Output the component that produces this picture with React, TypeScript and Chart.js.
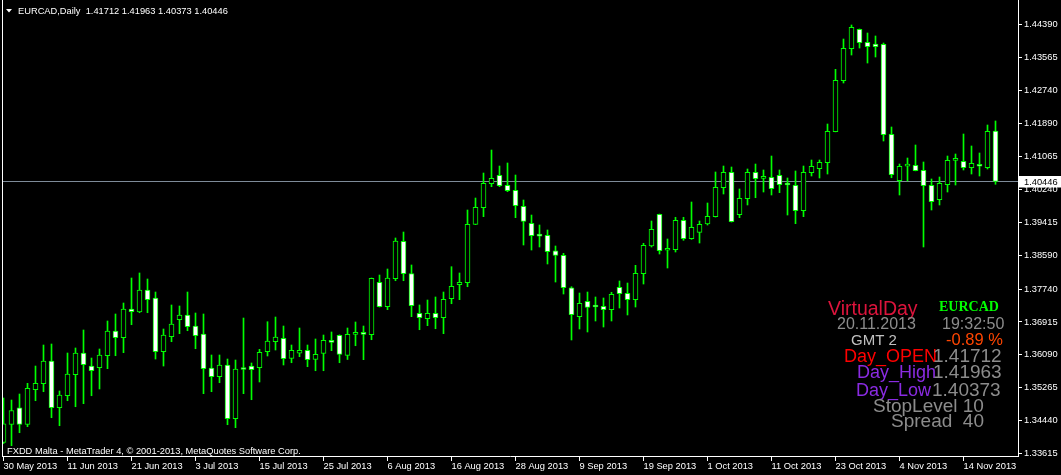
import React, { useEffect, useRef } from 'react';
import { Chart, registerables } from 'chart.js';

Chart.register(...registerables);

// ---- Data (EURCAD, Daily) ----
const opens = [
  1.33892, 1.34339, 1.34761, 1.34339, 1.35213, 1.35364, 1.35934, 1.34761, 1.35062, 1.35590,
  1.36135, 1.35808, 1.35766, 1.36067, 1.36688, 1.36519, 1.37240, 1.37165, 1.37718, 1.37517,
  1.36168, 1.36544, 1.36971, 1.37090, 1.36813, 1.36612, 1.35758, 1.35540, 1.35834, 1.34485,
  1.35733, 1.35808, 1.35766, 1.36168, 1.36419, 1.36504, 1.35997, 1.36128, 1.36203, 1.35972,
  1.36122, 1.36454, 1.36580, 1.36077, 1.36605, 1.36655, 1.36595, 1.37911, 1.37298, 1.38001,
  1.38941, 1.38127, 1.37132, 1.36997, 1.37132, 1.37022, 1.37499, 1.37851, 1.37901, 1.39368,
  1.39785, 1.40388, 1.40599, 1.40347, 1.40222, 1.39820, 1.39393, 1.39082, 1.39092, 1.38700,
  1.38589, 1.37775, 1.37047, 1.37434, 1.37298, 1.37308, 1.37223, 1.37785, 1.37635, 1.37474,
  1.38127, 1.38823, 1.39619, 1.38715, 1.38730, 1.39468, 1.39006, 1.39167, 1.39375, 1.39559,
  1.40287, 1.40674, 1.39609, 1.40011, 1.40674, 1.40520, 1.40548, 1.40599, 1.40363, 1.40347,
  1.39709, 1.40664, 1.40765, 1.40915, 1.41694, 1.42975, 1.43779, 1.44266, 1.43939, 1.43897,
  1.43889, 1.41628, 1.40463, 1.40830, 1.40850, 1.40724, 1.40347, 1.39986, 1.40363, 1.40975,
  1.40950, 1.40790, 1.40830, 1.40790, 1.41712,
];
const highs = [
  1.35005, 1.34954, 1.35105, 1.35374, 1.35808, 1.36336, 1.36361, 1.35181, 1.36135, 1.36261,
  1.36713, 1.36009, 1.36236, 1.36939, 1.37115, 1.37391, 1.38019, 1.38145, 1.37994, 1.37667,
  1.36738, 1.37341, 1.37316, 1.37667, 1.37140, 1.37115, 1.36085, 1.36085, 1.35984, 1.35959,
  1.37014, 1.35884, 1.36228, 1.36921, 1.37039, 1.36813, 1.36336, 1.36763, 1.36336, 1.36487,
  1.36587, 1.36663, 1.36590, 1.36763, 1.36914, 1.36813, 1.38019, 1.38094, 1.38245, 1.39024,
  1.39174, 1.38346, 1.37341, 1.37466, 1.37542, 1.37667, 1.38303, 1.38145, 1.39727, 1.40028,
  1.40656, 1.41234, 1.40832, 1.40908, 1.40606, 1.39978, 1.39601, 1.39350, 1.39225, 1.38823,
  1.38639, 1.37800, 1.37642, 1.37667, 1.37542, 1.37517, 1.37660, 1.37944, 1.37893, 1.38338,
  1.38891, 1.39451, 1.39625, 1.38999, 1.39544, 1.39544, 1.39928, 1.39451, 1.39903, 1.40682,
  1.40832, 1.40807, 1.40255, 1.40757, 1.40882, 1.40732, 1.41083, 1.40732, 1.40531, 1.40707,
  1.40832, 1.40983, 1.40983, 1.41887, 1.43261, 1.44022, 1.44374, 1.44274, 1.44173, 1.44098,
  1.43922, 1.41812, 1.40882, 1.41033, 1.41360, 1.40933, 1.40506, 1.40556, 1.41083, 1.41134,
  1.41636, 1.41335, 1.41159, 1.41862, 1.41963,
];
const lows = [
  1.33862, 1.33807, 1.34133, 1.34284, 1.34937, 1.35163, 1.34510, 1.34309, 1.34937, 1.34786,
  1.34862, 1.35062, 1.35231, 1.35741, 1.36067, 1.36143, 1.36846, 1.37147, 1.37147, 1.35984,
  1.35808, 1.36419, 1.36620, 1.36695, 1.36243, 1.35113, 1.35163, 1.35389, 1.34334, 1.34259,
  1.35113, 1.34962, 1.35407, 1.36060, 1.36210, 1.35834, 1.35891, 1.36042, 1.35791, 1.35690,
  1.35690, 1.36193, 1.35891, 1.35972, 1.36318, 1.35967, 1.36469, 1.37290, 1.37223, 1.37951,
  1.37951, 1.37047, 1.36720, 1.36821, 1.36745, 1.36620, 1.37373, 1.37474, 1.37800, 1.39358,
  1.39559, 1.40312, 1.40312, 1.40187, 1.39534, 1.38848, 1.38722, 1.38798, 1.38371, 1.37918,
  1.37617, 1.36462, 1.36738, 1.36663, 1.36939, 1.36788, 1.36939, 1.37265, 1.37090, 1.37290,
  1.37868, 1.38798, 1.38622, 1.38270, 1.38672, 1.38966, 1.38991, 1.38898, 1.39350, 1.39550,
  1.40129, 1.39425, 1.39534, 1.39853, 1.40036, 1.40179, 1.40104, 1.40162, 1.39601, 1.39383,
  1.39559, 1.40581, 1.40531, 1.40631, 1.41690, 1.42917, 1.43620, 1.43796, 1.43419, 1.43570,
  1.41460, 1.40538, 1.40104, 1.40456, 1.40710, 1.38798, 1.39727, 1.39853, 1.40179, 1.40355,
  1.40732, 1.40631, 1.40581, 1.40757, 1.40373,
];
const closes = [
  1.34359, 1.34691, 1.34339, 1.35248, 1.35374, 1.35934, 1.34761, 1.35080, 1.35608, 1.36135,
  1.35841, 1.35690, 1.36085, 1.36688, 1.36519, 1.37240, 1.37172, 1.37718, 1.37474, 1.36168,
  1.36587, 1.36863, 1.37090, 1.36796, 1.36570, 1.35741, 1.35540, 1.35834, 1.34485, 1.35733,
  1.35720, 1.35716, 1.36153, 1.36436, 1.36537, 1.35992, 1.36203, 1.36203, 1.35967, 1.36102,
  1.36454, 1.36404, 1.36097, 1.36605, 1.36655, 1.36605, 1.38010, 1.37298, 1.38019, 1.38948,
  1.38127, 1.37323, 1.37022, 1.37132, 1.37022, 1.37484, 1.37810, 1.37911, 1.39368, 1.39795,
  1.40398, 1.40523, 1.40337, 1.40212, 1.39835, 1.39443, 1.39082, 1.39070, 1.38680, 1.38589,
  1.37775, 1.37097, 1.37383, 1.37283, 1.37290, 1.37223, 1.37610, 1.37625, 1.37474, 1.38137,
  1.38840, 1.39242, 1.38705, 1.38725, 1.39468, 1.39006, 1.39293, 1.39368, 1.39569, 1.40297,
  1.40674, 1.39433, 1.40021, 1.40674, 1.40513, 1.40531, 1.40262, 1.40363, 1.40355, 1.39709,
  1.40674, 1.40825, 1.40925, 1.41704, 1.42985, 1.43789, 1.44316, 1.43929, 1.43829, 1.43829,
  1.41618, 1.40614, 1.40825, 1.40840, 1.40714, 1.40337, 1.39936, 1.40398, 1.40975, 1.40985,
  1.40790, 1.40900, 1.40825, 1.41704, 1.40446,
];

// time-axis labels, one every 8 bars
const dateLabels = [
  '30 May 2013', '11 Jun 2013', '21 Jun 2013', '3 Jul 2013', '15 Jul 2013', '25 Jul 2013',
  '6 Aug 2013', '16 Aug 2013', '28 Aug 2013', '9 Sep 2013', '19 Sep 2013', '1 Oct 2013',
  '11 Oct 2013', '23 Oct 2013', '4 Nov 2013', '14 Nov 2013',
];
const dateLabelStep = 8;

// price-axis labels
const priceTicks = [
  1.44390, 1.43565, 1.42740, 1.41890, 1.41065, 1.40240, 1.39415,
  1.38590, 1.37740, 1.36915, 1.36090, 1.35265, 1.34440, 1.33615,
];
const priceMin = 1.33548;
const priceMax = 1.45002;

const symbol = 'EURCAD';
const period = 'Daily';
const serverDate = '20.11.2013';
const serverTime = '19:32:50';
const gmtLabel = 'GMT 2';
const stopLevel = 10;
const spread = 40;
const copyright = 'FXDD Malta - MetaTrader 4, \u00A9 2001-2013, MetaQuotes Software Corp.';

const LIME = '#00FF00';
const AXIS_FAMILY = '"Liberation Sans", Arial, sans-serif';
const AXIS_SIZE = 9.3;

export default function App() {
  const canvasRef = useRef<HTMLCanvasElement | null>(null);

  useEffect(() => {
    document.body.style.margin = '0';
    document.body.style.background = '#000';
    const canvas = canvasRef.current;
    if (!canvas) return;

    const n = closes.length;
    const idx = closes.map((_, i) => i);
    const last = n - 1;
    const dayOpen = opens[last];
    const dayHigh = highs[last];
    const dayLow = lows[last];
    const dayClose = closes[last];
    const changePct = ((dayClose - dayOpen) / dayOpen) * 100;

    const axisFont = `${AXIS_SIZE}px ${AXIS_FAMILY}`;

    const mt4Plugin = {
      id: 'mt4Plugin',
      beforeDraw(chart: any) {
        const ctx = chart.ctx;
        ctx.save();
        ctx.fillStyle = '#000000';
        ctx.fillRect(0, 0, chart.width, chart.height);
        ctx.restore();
      },
      beforeDatasetsDraw(chart: any) {
        const ctx = chart.ctx;
        const y = chart.scales.y;
        const ca = chart.chartArea;
        const py = Math.round(y.getPixelForValue(dayClose)) + 0.5;
        ctx.save();
        ctx.strokeStyle = '#7E8B99';
        ctx.lineWidth = 1;
        ctx.beginPath();
        ctx.moveTo(ca.left, py);
        ctx.lineTo(ca.right, py);
        ctx.stroke();
        ctx.restore();
      },
      afterDraw(chart: any) {
        const ctx = chart.ctx;
        const ca = chart.chartArea;
        const yScale = chart.scales.y;
        ctx.save();
        // left border
        ctx.strokeStyle = '#FFFFFF';
        ctx.lineWidth = 1;
        ctx.beginPath();
        ctx.moveTo(ca.left + 0.5, 0);
        ctx.lineTo(ca.left + 0.5, ca.bottom + 1);
        ctx.stroke();

        // title
        ctx.fillStyle = '#FFFFFF';
        ctx.beginPath();
        ctx.moveTo(6, 9);
        ctx.lineTo(12, 9);
        ctx.lineTo(9, 12.5);
        ctx.closePath();
        ctx.fill();
        ctx.font = axisFont;
        ctx.textBaseline = 'alphabetic';
        ctx.textAlign = 'left';
        ctx.fillText(
          `${symbol},${period}  ${dayOpen.toFixed(5)} ${dayHigh.toFixed(5)} ${dayLow.toFixed(5)} ${dayClose.toFixed(5)}`,
          18, 13.5
        );
        // copyright
        ctx.fillText(copyright, 7, 453.5);

        // current price box on axis
        const py = Math.round(yScale.getPixelForValue(dayClose)) + 0.5;
        ctx.fillStyle = '#FFFFFF';
        ctx.fillRect(ca.right + 1, py - 5.5, chart.width - ca.right - 1, 11.5);
        ctx.fillStyle = '#000000';
        ctx.textBaseline = 'middle';
        ctx.fillText(dayClose.toFixed(5), ca.right + 6, py + 0.5);

        // info panel
        const sans = '"Liberation Sans", Arial, sans-serif';
        const serif = '"Liberation Serif", "Times New Roman", serif';
        const items: Array<[string, string, string, number, number]> = [
          ['VirtualDay', '#DC143C', `19.5px ${sans}`, 828, 315],
          [symbol, LIME, `bold 14px ${serif}`, 939, 311],
          [serverDate, '#8C8C8C', `16px ${sans}`, 837, 329],
          [serverTime, '#8C8C8C', `16px ${sans}`, 942, 329],
          [gmtLabel, '#C0C0C0', `15px ${sans}`, 851, 345],
          [`${changePct.toFixed(2)} %`, '#FF4500', `16.5px ${sans}`, 946, 345],
          ['Day_OPEN', '#FF0000', `18px ${sans}`, 844, 362],
          [dayOpen.toFixed(5), '#8C8C8C', `19px ${sans}`, 933, 362],
          ['Day_High', '#8A2BE2', `18px ${sans}`, 857, 377.5],
          [dayHigh.toFixed(5), '#8C8C8C', `19px ${sans}`, 933, 377.5],
          ['Day_Low', '#8A2BE2', `18px ${sans}`, 856, 396],
          [dayLow.toFixed(5), '#8C8C8C', `19px ${sans}`, 932, 396],
          [`StopLevel ${stopLevel}`, '#8C8C8C', `19px ${sans}`, 873, 411.5],
          [`Spread  ${spread}`, '#8C8C8C', `19px ${sans}`, 891, 427],
        ];
        ctx.textBaseline = 'alphabetic';
        ctx.textAlign = 'left';
        for (const [text, color, font, x, yy] of items) {
          ctx.fillStyle = color;
          ctx.font = font;
          ctx.fillText(text, x, yy);
        }
        ctx.restore();
      },
    };

    const chart = new Chart(canvas, {
      type: 'bar',
      data: {
        datasets: [
          {
            label: 'body',
            data: idx.map((i) => ({ x: i, y: [opens[i], closes[i]] })) as any,
            backgroundColor: idx.map((i) => (closes[i] >= opens[i] ? '#000000' : '#FFFFFF')),
            borderColor: LIME,
            borderWidth: 1,
            borderSkipped: false,
            barThickness: 5,
            minBarLength: 2,
            grouped: false,
            order: 0,
          } as any,
          {
            label: 'wick',
            data: idx.map((i) => ({ x: i, y: [lows[i], highs[i]] })) as any,
            backgroundColor: LIME,
            borderWidth: 0,
            barThickness: 1,
            grouped: false,
            order: 1,
          } as any,
        ],
      },
      options: {
        animation: false,
        responsive: false,
        devicePixelRatio: 1,
        layout: { padding: { left: 2, top: 0, right: 0, bottom: 0 }, autoPadding: false } as any,
        plugins: { legend: { display: false }, tooltip: { enabled: false } },
        scales: {
          x: {
            type: 'linear',
            offset: false,
            min: -0.1875,
            max: 126.8125,
            afterFit: (s: any) => {
              s.height = 19;
              s.paddingLeft = 0; s.paddingRight = 0; s.paddingTop = 0; s.paddingBottom = 0;
            },
            afterBuildTicks: (s: any) => {
              s.ticks = dateLabels.map((_, j) => ({ value: j * dateLabelStep }));
            },
            ticks: {
              autoSkip: false,
              maxRotation: 0,
              minRotation: 0,
              align: 'start',
              color: '#FFFFFF',
              padding: 0,
              font: { family: AXIS_FAMILY, size: AXIS_SIZE },
              callback: (_v: any, i: number) => dateLabels[i],
            },
            grid: { offset: false, drawOnChartArea: false, drawTicks: true, tickLength: 5, color: '#FFFFFF' },
            border: { display: true, color: '#FFFFFF' },
          } as any,
          y: {
            type: 'linear',
            position: 'right',
            min: priceMin,
            max: priceMax,
            afterFit: (s: any) => {
              s.width = 43;
              s.paddingLeft = 0; s.paddingRight = 0; s.paddingTop = 0; s.paddingBottom = 0;
            },
            afterBuildTicks: (s: any) => {
              s.ticks = priceTicks.map((v) => ({ value: v }));
            },
            ticks: {
              autoSkip: false,
              color: '#FFFFFF',
              padding: 2,
              font: { family: AXIS_FAMILY, size: AXIS_SIZE },
              callback: (v: any) => Number(v).toFixed(5),
            },
            grid: { drawOnChartArea: false, drawTicks: true, tickLength: 4, color: '#FFFFFF' },
            border: { display: true, color: '#FFFFFF' },
          } as any,
        },
      },
      plugins: [mt4Plugin],
    });

    return () => { chart.destroy(); };
  }, []);

  return (
    <div style={{ width: 1061, height: 475, background: '#000' }}>
      <canvas ref={canvasRef} width={1061} height={475} style={{ display: 'block' }} />
    </div>
  );
}
